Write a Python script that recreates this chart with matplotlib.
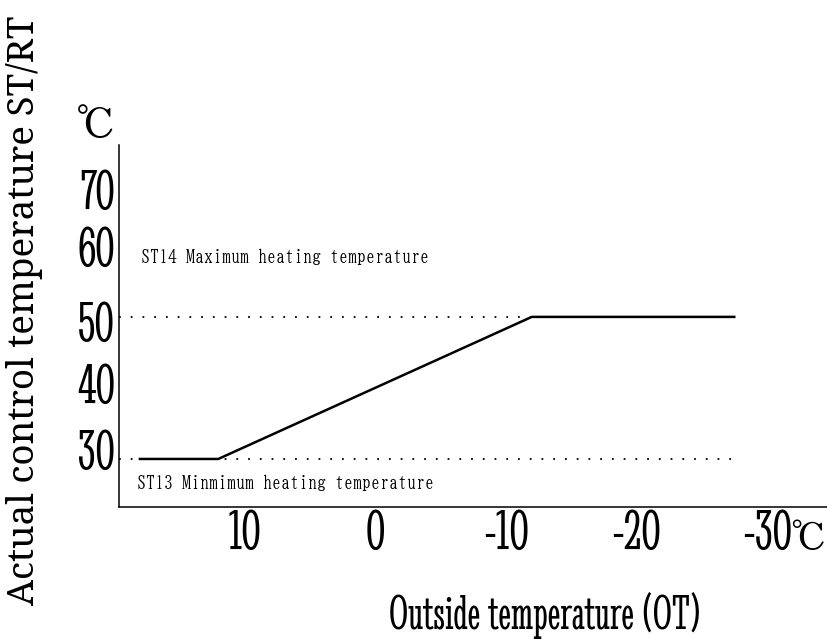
import matplotlib
matplotlib.use('Agg')
import matplotlib.pyplot as plt

# control curve: outside temperature -> control temperature
ot = [18, 12, -12, -27.5]
st = [30, 30, 50, 50]

st14_max = 50
st13_min = 30

x_ticks = [10, 0, -10, -20, -30]
x_labels = ['10', '0', '-10', '-20', '-30']
# tick labels in the drawing sit a bit off the grid values
y_tick_pos = [31.3, 40.7, 49.3, 59.9, 67.9]
y_labels = ['30', '40', '50', '60', '70']

num_font = ['Stint Ultra Condensed', 'Zen Old Mincho', 'Liberation Serif', 'DejaVu Sans']
note_font = ['BIZ UDMincho', 'Liberation Mono', 'DejaVu Sans']
unit_font = ['Zen Old Mincho', 'DejaVu Sans']

fig = plt.figure(figsize=(8.27, 6.39), dpi=100)
ax = fig.add_axes([0.1439, 0.2066, 0.8561, 0.5665])

ax.plot(ot, st, color='black', lw=1.8, solid_joinstyle='miter', zorder=3)
# dotted limit lines
ax.plot([19.6, ot[2]], [st14_max, st14_max], color='black', lw=1.3, linestyle=(0, (1, 5.5)))
ax.plot([19.6, -27.5], [st13_min, st13_min], color='black', lw=1.3, linestyle=(0, (1, 5.5)))

ax.text(17.9, 58.5, 'ST14 Maximum heating temperature', family=note_font, fontsize=13, va='center', ha='left')
ax.text(18.2, 26.7, 'ST13 Minmimum heating temperature', family=note_font, fontsize=13, va='center', ha='left')

ax.set_xlim(19.6, -34.6)
ax.set_ylim(23.24, 74.2)

ax.set_xticks(x_ticks)
ax.set_xticklabels(x_labels, family=num_font, fontsize=42)
ax.set_yticks(y_tick_pos)
ax.set_yticklabels(y_labels, family=num_font, fontsize=42)
ax.tick_params(axis='both', length=0)
ax.tick_params(axis='x', pad=2)
ax.tick_params(axis='y', pad=3)

# unit after the last x label
ax.text(1.0, -0.09, '\u2103', transform=ax.transAxes, family=unit_font, fontsize=27,
        ha='right', va='center')

for side in ['top', 'right']:
    ax.spines[side].set_visible(False)
for side in ['left', 'bottom']:
    ax.spines[side].set_linewidth(1.1)

fig.text(96 / 827, 1 - 127 / 639, '\u2103', family=unit_font, fontsize=30, ha='center', va='center')
fig.text(545 / 827, 1 - 615 / 639, 'Outside temperature (OT)', family=num_font, fontsize=35, ha='center', va='center')
fig.text(25 / 827, 1 - 310 / 639, 'Actual control temperature ST/RT', family=['Noto Serif', 'Liberation Serif'],
         fontsize=26.5, rotation=90, ha='center', va='center')

fig.savefig('out.png')
